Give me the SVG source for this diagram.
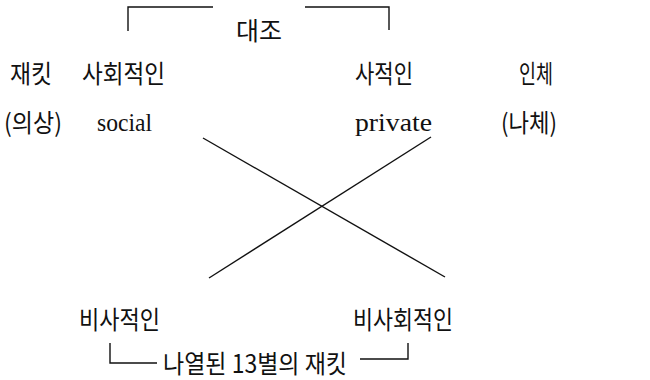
<svg xmlns="http://www.w3.org/2000/svg" width="650" height="380" viewBox="0 0 650 380">
<style>
.k{font-family:"Noto Sans CJK KR","Liberation Sans",sans-serif;font-size:25px;fill:#111}
.e{font-family:"Liberation Serif",serif;font-size:26px;fill:#111}
.ln{stroke:#111;stroke-width:1.4;fill:none}
</style>
<rect width="650" height="380" fill="#fff"/>
<g id="contrast">
<path class="ln" d="M128,31 V7 H213 M305,7 H389 V30"/>
<text class="k" x="236" y="40" textLength="46" lengthAdjust="spacingAndGlyphs">대조</text>
</g>
<g id="jacket">
<text class="k" x="10" y="83" textLength="42" lengthAdjust="spacingAndGlyphs">재킷</text>
<text class="k" x="4" y="132" textLength="58" lengthAdjust="spacingAndGlyphs">(의상)</text>
</g>
<g id="social">
<text class="k" x="82" y="83" textLength="83" lengthAdjust="spacingAndGlyphs">사회적인</text>
<text class="e" x="97" y="131" textLength="55" lengthAdjust="spacingAndGlyphs">social</text>
</g>
<g id="private">
<text class="k" x="355" y="83" textLength="58" lengthAdjust="spacingAndGlyphs">사적인</text>
<text class="e" x="355" y="131" textLength="77" lengthAdjust="spacingAndGlyphs">private</text>
</g>
<g id="body">
<text class="k" x="519" y="83" textLength="34" lengthAdjust="spacingAndGlyphs">인체</text>
<text class="k" x="501" y="132" textLength="56" lengthAdjust="spacingAndGlyphs">(나체)</text>
</g>
<g id="nonprivate">
<text class="k" x="79" y="329" textLength="81" lengthAdjust="spacingAndGlyphs">비사적인</text>
</g>
<g id="nonsocial">
<text class="k" x="353" y="329" textLength="100" lengthAdjust="spacingAndGlyphs">비사회적인</text>
</g>
<g id="listed">
<path class="ln" d="M110,343 V363 H157 M360,359 H408 V343"/>
<text class="k" x="163" y="373" textLength="184" lengthAdjust="spacingAndGlyphs">나열된 13별의 재킷</text>
</g>
<g id="connectors">
<line class="ln" x1="203" y1="138" x2="445" y2="277"/>
<line class="ln" x1="431" y1="137" x2="209" y2="278"/>
</g>
</svg>
